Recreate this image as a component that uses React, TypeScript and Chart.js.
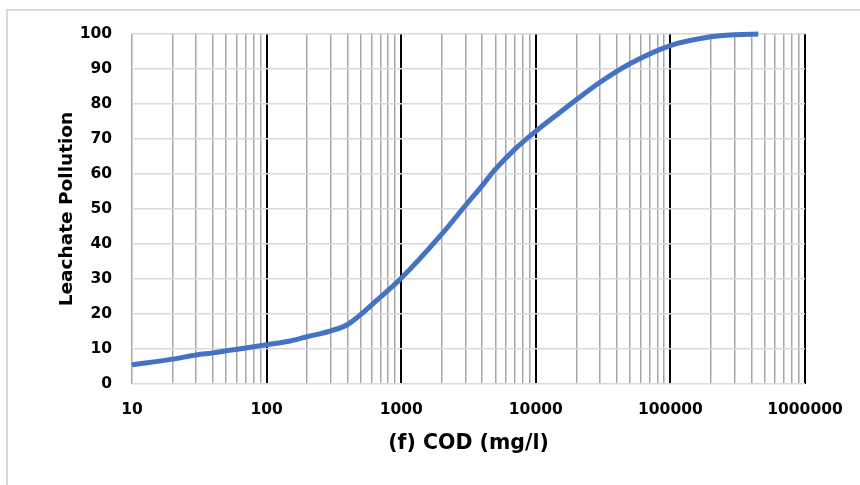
import React, { useEffect, useRef } from "react";
import { Chart, registerables } from "chart.js";

Chart.register(...registerables);

const codValues = [10, 20, 30, 40, 50, 70, 100, 150, 200, 300, 400, 700, 1000, 2000, 3000, 4000, 5000, 7000, 10000, 15000, 20000, 30000, 50000, 100000, 200000, 300000, 450000];
const pollutionValues = [5.5, 7.1, 8.3, 8.9, 9.5, 10.3, 11.2, 12.3, 13.5, 15.2, 17, 24.8, 30.2, 42.8, 51, 56.7, 61.3, 67.1, 72.2, 77.5, 81.2, 86.2, 91.5, 96.7, 99.2, 99.8, 100];

const majorTicks = [10, 100, 1000, 10000, 100000, 1000000];
const minorMultipliers = [1, 2, 3, 4, 5, 6, 7, 8, 9];
const yTicks = [0, 10, 20, 30, 40, 50, 60, 70, 80, 90, 100];

const xTickValues: number[] = [];
majorTicks.forEach((m, i) => {
  if (i === majorTicks.length - 1) {
    xTickValues.push(m);
  } else {
    minorMultipliers.forEach((k) => xTickValues.push(m * k));
  }
});

const FONT = "'DejaVu Sans', 'Open Sans', sans-serif";

export default function App() {
  const ref = useRef<HTMLCanvasElement | null>(null);

  useEffect(() => {
    document.body.style.margin = "0";
    const canvas = ref.current!;
    const framePlugin = {
      id: "frame",
      beforeDraw(chart: any) {
        const ctx = chart.ctx;
        ctx.save();
        ctx.strokeStyle = "#d9d9d9";
        ctx.lineWidth = 2;
        ctx.beginPath();
        ctx.moveTo(7, 485);
        ctx.lineTo(7, 10);
        ctx.lineTo(860, 10);
        ctx.stroke();
        ctx.restore();
      },
    };
    const chart = new Chart(canvas, {
      type: "line",
      data: {
        datasets: [
          {
            data: codValues.map((x, i) => ({ x, y: pollutionValues[i] })),
            borderColor: "#4472C4",
            borderWidth: 5,
            pointRadius: 0,
            fill: false,
            tension: 0.4,
            cubicInterpolationMode: "monotone",
            clip: 6,
          } as any,
        ],
      },
      options: {
        animation: false,
        responsive: false,
        maintainAspectRatio: false,
        layout: { padding: { left: 0, right: 55, top: 34, bottom: 0 } },
        plugins: { legend: { display: false }, tooltip: { enabled: false } },
        scales: {
          x: {
            type: "logarithmic",
            min: 10,
            max: 1000000,
            afterBuildTicks(scale: any) {
              scale.ticks = xTickValues.map((v) => ({ value: v, major: majorTicks.includes(v) }));
            },
            afterFit(scale: any) {
              scale.height = 101;
            },
            border: { display: false },
            grid: {
              drawTicks: false,
              color: (c: any) => (majorTicks.includes(c.tick?.value) && c.tick.value !== 10 ? "#000000" : "#a6a6a6"),
              lineWidth: (c: any) => (majorTicks.includes(c.tick?.value) && c.tick.value !== 10 ? 2 : 1.5),
            },
            ticks: {
              autoSkip: false,
              maxRotation: 0,
              padding: 17,
              color: "#000000",
              font: { family: FONT, size: 15.5, weight: "bold" },
              callback: (v: any) => (majorTicks.includes(Number(v)) ? String(v) : ""),
            },
            title: {
              display: true,
              text: "(f) COD (mg/l)",
              color: "#000000",
              font: { family: FONT, size: 20.5, weight: "bold" },
              padding: { top: 0, bottom: 29 },
            },
          },
          y: {
            min: 0,
            max: 100,
            afterBuildTicks(scale: any) {
              scale.ticks = yTicks.map((v) => ({ value: v }));
            },
            afterFit(scale: any) {
              scale.width = 132;
            },
            border: { display: false },
            grid: {
              drawTicks: false,
              color: "#d9d9d9",
              lineWidth: 1.5,
            },
            ticks: {
              padding: 20,
              color: "#000000",
              font: { family: FONT, size: 15.5, weight: "bold" },
            },
            title: {
              display: true,
              text: "Leachate Pollution",
              color: "#000000",
              font: { family: FONT, size: 18.5, weight: "bold" },
              padding: { top: 56, bottom: 0 },
            },
          },
        },
      },
      plugins: [framePlugin],
    });
    return () => chart.destroy();
  }, []);

  return (
    <div style={{ position: "relative", width: 860, height: 485 }}>
      <canvas ref={ref} width={860} height={485} style={{ display: "block", width: 860, height: 485 }} />
    </div>
  );
}
